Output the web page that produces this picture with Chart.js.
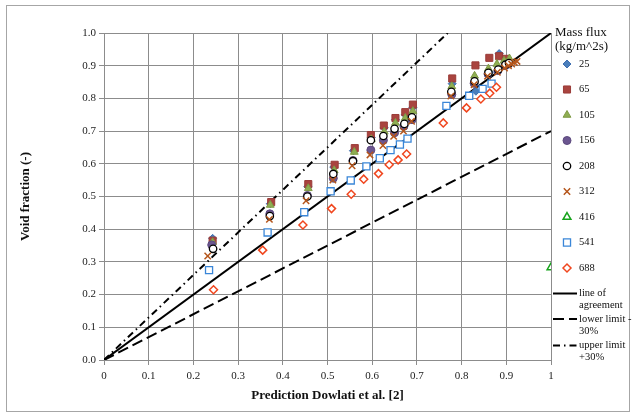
<!DOCTYPE html>
<html>
<head>
<meta charset="utf-8">
<script src="https://cdn.jsdelivr.net/npm/chart.js@4/dist/chart.umd.min.js"></script>
<style>
  html, body { margin: 0; padding: 0; background: #fff; }
</style>
</head>
<body>
<canvas id="void-chart" width="635" height="419"></canvas>
<script>
// measured void fraction vs. Dowlati prediction, per mass flux (kg/m^2s)
var x25  = [0.243, 0.372, 0.456, 0.514, 0.558, 0.598, 0.627, 0.652, 0.674, 0.691, 0.779, 0.832, 0.862, 0.884, 0.899, 0.910];
var y25  = [0.372, 0.478, 0.530, 0.590, 0.640, 0.680, 0.710, 0.735, 0.750, 0.772, 0.845, 0.822, 0.880, 0.937, 0.915, 0.912];
var x65  = [0.243, 0.374, 0.457, 0.516, 0.561, 0.597, 0.626, 0.652, 0.674, 0.691, 0.779, 0.831, 0.862, 0.884, 0.899];
var y65  = [0.365, 0.483, 0.538, 0.597, 0.648, 0.688, 0.717, 0.740, 0.758, 0.781, 0.861, 0.901, 0.924, 0.929, 0.921];
var x105 = [0.243, 0.372, 0.457, 0.515, 0.560, 0.598, 0.627, 0.652, 0.674, 0.691, 0.778, 0.829, 0.860, 0.879, 0.895, 0.907];
var y105 = [0.360, 0.474, 0.525, 0.580, 0.636, 0.675, 0.698, 0.725, 0.740, 0.761, 0.837, 0.869, 0.891, 0.905, 0.915, 0.922];
var x156 = [0.241, 0.371, 0.455, 0.513, 0.557, 0.597, 0.625, 0.650, 0.671, 0.689, 0.778, 0.828, 0.859, 0.881, 0.897, 0.905];
var y156 = [0.352, 0.447, 0.503, 0.556, 0.610, 0.642, 0.672, 0.695, 0.715, 0.735, 0.812, 0.846, 0.875, 0.885, 0.900, 0.905];
var x208 = [0.244, 0.371, 0.455, 0.513, 0.557, 0.597, 0.625, 0.650, 0.672, 0.689, 0.777, 0.829, 0.860, 0.882, 0.898, 0.906];
var y208 = [0.340, 0.440, 0.500, 0.569, 0.608, 0.672, 0.685, 0.707, 0.722, 0.742, 0.820, 0.852, 0.878, 0.888, 0.903, 0.908];
var x312 = [0.232, 0.370, 0.452, 0.512, 0.555, 0.595, 0.624, 0.648, 0.670, 0.688, 0.776, 0.828, 0.858, 0.880, 0.896, 0.905, 0.912, 0.918, 0.924];
var y312 = [0.318, 0.430, 0.487, 0.550, 0.594, 0.627, 0.656, 0.684, 0.700, 0.730, 0.807, 0.842, 0.868, 0.880, 0.893, 0.900, 0.905, 0.910, 0.913];
var x416 = [1.0];
var y416 = [0.283];
var x541 = [0.235, 0.366, 0.448, 0.507, 0.552, 0.587, 0.617, 0.641, 0.662, 0.679, 0.766, 0.817, 0.847, 0.867];
var y541 = [0.275, 0.390, 0.452, 0.516, 0.549, 0.592, 0.617, 0.642, 0.659, 0.677, 0.777, 0.808, 0.829, 0.845];
var x688 = [0.245, 0.355, 0.445, 0.509, 0.553, 0.581, 0.614, 0.638, 0.658, 0.677, 0.759, 0.811, 0.843, 0.863, 0.878];
var y688 = [0.215, 0.336, 0.413, 0.463, 0.507, 0.553, 0.570, 0.597, 0.612, 0.630, 0.725, 0.771, 0.798, 0.816, 0.834];

// reference lines
var xAgree = [0, 1];
var yAgree = [0, 1];
var xLower = [0, 1];
var yLower = [0, 0.7];
var xUpper = [0, 0.769];
var yUpper = [0, 1.0];

var serif = '"Liberation Serif", "Times New Roman", serif';

function pts(xs, ys) {
  return xs.map(function (x, i) { return { x: x, y: ys[i] }; });
}

function marker(label, xs, ys, style, color, fill, r, bw, idx) {
  return {
    label: label,
    data: pts(xs, ys),
    pointStyle: style,
    pointRadius: r,
    pointHoverRadius: r,
    pointBackgroundColor: fill,
    pointBorderColor: color,
    pointBorderWidth: bw,
    showLine: false,
    order: 100 - idx
  };
}

function refLine(label, xs, ys, dash) {
  return {
    label: label,
    data: pts(xs, ys),
    showLine: true,
    borderColor: '#000',
    borderWidth: 2,
    borderDash: dash,
    pointRadius: 0,
    fill: false,
    order: 200
  };
}

var datasets = [
  marker('25',  x25,  y25,  'rectRot',  '#3f6fb0', '#4a7ebb', 4,   1,   0),
  marker('65',  x65,  y65,  'rect',     '#9a3b38', '#a9443f', 5,   1,   1),
  marker('105', x105, y105, 'triangle', '#7f9a45', '#8fae52', 4.5, 1,   2),
  marker('156', x156, y156, 'circle',   '#5d4a7e', '#6b5690', 4,   1,   3),
  marker('208', x208, y208, 'circle',   '#000',    '#fff',    3.7, 1.3, 4),
  marker('312', x312, y312, 'crossRot', '#b5561c', '#b5561c', 4.5, 1.5, 5),
  marker('416', x416, y416, 'triangle', '#17a31c', '#fff',    4.5, 1.5, 6),
  marker('541', x541, y541, 'rect',     '#3a86d8', '#fff',    5,   1.3, 7),
  marker('688', x688, y688, 'rectRot',  '#f0461e', '#fff',    4,   1.5, 8),
  refLine(['line of', 'agreement'], xAgree, yAgree, []),
  refLine(['lower limit -', '30%'], xLower, yLower, [11, 5]),
  refLine(['upper limit', '+30%'], xUpper, yUpper, [7, 4, 1.5, 4])
];

var framePlugin = {
  id: 'frame',
  beforeDraw: function (chart) {
    var ctx = chart.ctx;
    ctx.save();
    ctx.fillStyle = '#fff';
    ctx.fillRect(0, 0, chart.width, chart.height);
    ctx.strokeStyle = '#a6a6a6';
    ctx.lineWidth = 1;
    ctx.strokeRect(6.5, 5.5, 623, 406);
    ctx.restore();
  }
};

var sideLegend = {
  id: 'sideLegend',
  afterDraw: function (chart) {
    var ctx = chart.ctx;
    ctx.save();
    ctx.fillStyle = '#111';
    ctx.textAlign = 'left';
    ctx.textBaseline = 'middle';
    ctx.font = '13px ' + serif;
    ctx.fillText('Mass flux', 555, 33);
    ctx.fillText('(kg/m^2s)', 555, 47);

    ctx.font = '10.5px ' + serif;
    var row = 0;
    chart.data.datasets.forEach(function (ds) {
      if (ds.showLine) return;
      var y = 64 + row * 25.5;
      ctx.fillStyle = ds.pointBackgroundColor;
      ctx.strokeStyle = ds.pointBorderColor;
      ctx.lineWidth = ds.pointBorderWidth;
      ctx.setLineDash([]);
      Chart.helpers.drawPoint(ctx, {
        pointStyle: ds.pointStyle,
        radius: ds.pointRadius,
        borderWidth: ds.pointBorderWidth,
        rotation: 0
      }, 567, y);
      ctx.fillStyle = '#111';
      ctx.fillText(ds.label, 579, y);
      row++;
    });

    var lineRows = [293.5, 319, 345.5];
    var k = 0;
    chart.data.datasets.forEach(function (ds) {
      if (!ds.showLine) return;
      var y = lineRows[k++];
      ctx.strokeStyle = '#000';
      ctx.lineWidth = 2;
      ctx.setLineDash(ds.borderDash);
      ctx.beginPath();
      ctx.moveTo(553, y);
      ctx.lineTo(577, y);
      ctx.stroke();
      ctx.setLineDash([]);
      ctx.fillStyle = '#111';
      ctx.fillText(ds.label[0], 579, y);
      ctx.fillText(ds.label[1], 579, y + 12);
    });
    ctx.restore();
  }
};

var gridColor = '#8c8c8c';

var chart = new Chart(document.getElementById('void-chart'), {
  type: 'scatter',
  data: { datasets: datasets },
  plugins: [framePlugin, sideLegend],
  options: {
    responsive: false,
    devicePixelRatio: 1,
    animation: false,
    layout: { padding: { left: 12, top: 33, right: 84, bottom: 0 } },
    plugins: {
      legend: { display: false },
      tooltip: { enabled: false }
    },
    scales: {
      x: {
        type: 'linear',
        min: 0,
        max: 1,
        afterFit: function (s) { s.height = 59; },
        ticks: {
          stepSize: 0.1,
          padding: 5,
          color: '#222',
          font: { family: serif, size: 11 },
          callback: function (v) {
            if (v === 0) return '0';
            if (v === 1) return '1';
            return v.toFixed(1);
          }
        },
        grid: { color: gridColor, lineWidth: 1, tickLength: 5 },
        border: { color: gridColor },
        title: {
          display: true,
          text: 'Prediction Dowlati et al. [2]',
          color: '#111',
          font: { family: serif, size: 13, weight: 'bold' },
          padding: { top: 0, bottom: 16 }
        }
      },
      y: {
        type: 'linear',
        min: 0,
        max: 1,
        afterFit: function (s) { s.width = 92; },
        ticks: {
          stepSize: 0.1,
          padding: 3,
          color: '#222',
          font: { family: serif, size: 11 },
          callback: function (v) { return v.toFixed(1); }
        },
        grid: { color: gridColor, lineWidth: 1, tickLength: 5 },
        border: { color: gridColor },
        title: {
          display: true,
          text: 'Void fraction (-)',
          color: '#111',
          font: { family: serif, size: 13, weight: 'bold' },
          padding: { top: 6, bottom: 0 }
        }
      }
    }
  }
});
</script>
</body>
</html>
